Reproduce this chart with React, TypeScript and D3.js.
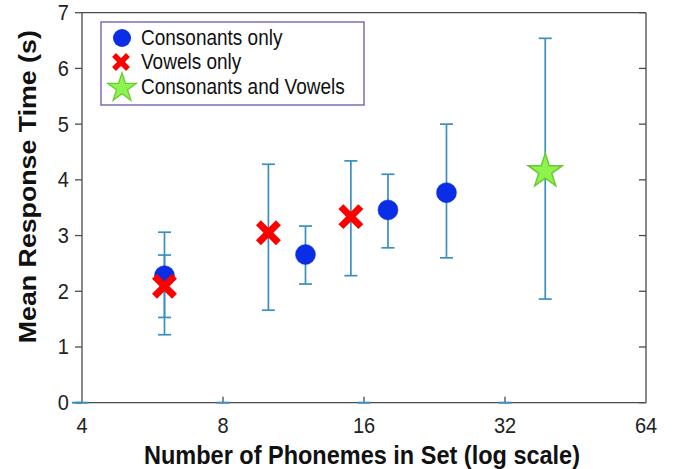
import * as d3 from "d3";

// number of phonemes in each set
const consonantN = [6, 12, 18, 24];
const consonantMean = [2.28, 2.66, 3.46, 3.77];
const consonantLow = [1.53, 2.13, 2.78, 2.6];
const consonantHigh = [2.65, 3.17, 4.1, 5.0];

const vowelN = [6, 10, 15];
const vowelMean = [2.09, 3.05, 3.34];
const vowelLow = [1.22, 1.66, 2.28];
const vowelHigh = [3.06, 4.28, 4.34];

const bothN = [39];
const bothMean = [4.19];
const bothLow = [1.86];
const bothHigh = [6.54];

// flat caps sitting on the baseline
const baselineCaps = [4, 8, 16, 32];

const xTicks = [4, 8, 16, 32, 64];
const yTicks = [0, 1, 2, 3, 4, 5, 6, 7];

const legendLabels = ["Consonants only", "Vowels only", "Consonants and Vowels"];

const W = 676;
const H = 469;
const font = "Arial, 'Liberation Sans', sans-serif";
const barColor = "#3a8fc0";
const axisColor = "#4a4a4a";
const stretch = 1.12; // text in the picture is a bit taller than wide

const x = d3.scaleLog().base(2).domain([4, 64]).range([82, 646]);
const y = d3.scaleLinear().domain([0, 7]).range([402.7, 12.7]);

const starPath = d3.symbol(d3.symbolStar, 360)() as string;
const starSmall = d3.symbol(d3.symbolStar, 260)() as string;

function Cross({ cx, cy, s, w }: { cx: number; cy: number; s: number; w: number }) {
    return (
        <g stroke="#ff0000" strokeWidth={w}>
            <line x1={cx - s} y1={cy - s} x2={cx + s} y2={cy + s} />
            <line x1={cx - s} y1={cy + s} x2={cx + s} y2={cy - s} />
        </g>
    );
}

function ErrorBar({ n, lo, hi }: { n: number; lo: number; hi: number }) {
    const cx = x(n);
    const cap = 6.5;
    return (
        <g stroke={barColor} strokeWidth={1.7}>
            <line x1={cx} x2={cx} y1={y(lo)} y2={y(hi)} />
            <line x1={cx - cap} x2={cx + cap} y1={y(lo)} y2={y(lo)} />
            <line x1={cx - cap} x2={cx + cap} y1={y(hi)} y2={y(hi)} />
        </g>
    );
}

export default function App() {
    const [x0, x1] = x.range();
    const [y0, y1] = y.range();

    return (
        <svg width={W} height={H} style={{ position: "absolute", left: 0, top: 0, background: "#fff" }}>
            {/* axes box */}
            <g stroke={axisColor} strokeWidth={1.3} fill="none">
                <line x1={x0} x2={x1} y1={y0} y2={y0} />
                <line x1={x0} x2={x1} y1={y1} y2={y1} />
                <line x1={x0} x2={x0} y1={y0} y2={y1} />
                <line x1={x1} x2={x1} y1={y0} y2={y1} />
                {yTicks.map(t => (
                    <g key={t}>
                        <line x1={x0 - 7} x2={x0} y1={y(t)} y2={y(t)} />
                        <line x1={x1 - 7} x2={x1} y1={y(t)} y2={y(t)} />
                    </g>
                ))}
                {xTicks.slice(1, -1).map(t => (
                    <line key={t} x1={x(t)} x2={x(t)} y1={y0} y2={y0 - 6} />
                ))}
            </g>

            {baselineCaps.map(t => (
                <line key={t} x1={x(t) - 6.5} x2={x(t) + 6.5} y1={y0} y2={y0}
                    stroke={barColor} strokeWidth={2} />
            ))}
            <line x1={x0 - 10} x2={x0} y1={y0} y2={y0} stroke={barColor} strokeWidth={2} />

            {/* tick labels */}
            <g fontFamily={font} fontSize={20} fill="#222">
                {yTicks.map(t => (
                    <text key={t} transform={`translate(${x0 - 13}, ${y(t) + 7.5}) scale(1, ${stretch})`}
                        textAnchor="end">{t}</text>
                ))}
                {xTicks.map(t => (
                    <text key={t} transform={`translate(${x(t)}, ${y0 + 30}) scale(1, ${stretch})`}
                        textAnchor="middle">{t}</text>
                ))}
            </g>

            {/* axis titles */}
            <text transform={`translate(${(x0 + x1) / 2 - 2}, 464) scale(1, ${stretch})`} textAnchor="middle"
                fontFamily={font} fontWeight="bold" fontSize={23} fill="#111"
                textLength={436} lengthAdjust="spacingAndGlyphs">
                Number of Phonemes in Set (log scale)
            </text>
            <text transform={`translate(36, ${(y0 + y1) / 2 - 21}) rotate(-90)`} textAnchor="middle"
                fontFamily={font} fontWeight="bold" fontSize={24} fill="#111"
                textLength={313} lengthAdjust="spacingAndGlyphs">
                Mean Response Time (s)
            </text>

            {/* error bars */}
            {consonantN.map((n, i) => (
                <ErrorBar key={"c" + n} n={n} lo={consonantLow[i]} hi={consonantHigh[i]} />
            ))}
            {vowelN.map((n, i) => (
                <ErrorBar key={"v" + n} n={n} lo={vowelLow[i]} hi={vowelHigh[i]} />
            ))}
            {bothN.map((n, i) => (
                <ErrorBar key={"b" + n} n={n} lo={bothLow[i]} hi={bothHigh[i]} />
            ))}

            {/* markers */}
            {consonantN.map((n, i) => (
                <circle key={n} cx={x(n)} cy={y(consonantMean[i])} r={10}
                    fill="#0a2ee6" stroke="#0a2ee6" strokeWidth={0.5} />
            ))}
            {vowelN.map((n, i) => (
                <Cross key={n} cx={x(n)} cy={y(vowelMean[i])} s={10} w={7} />
            ))}
            {bothN.map((n, i) => (
                <path key={n} d={starPath} transform={`translate(${x(n)}, ${y(bothMean[i]) + 2})`}
                    fill="#8ef24f" stroke="#66cc2e" strokeWidth={1.5} />
            ))}

            {/* legend */}
            <rect x={101} y={22} width={263} height={83} fill="#fff" stroke="#6e55a8" strokeWidth={1.3} />
            <circle cx={122} cy={38} r={9} fill="#0a2ee6" />
            <Cross cx={121} cy={62} s={7} w={5.5} />
            <path d={starSmall} transform="translate(122, 88)" fill="#8ef24f" stroke="#66cc2e" strokeWidth={1.2} />
            <g fontFamily={font} fontSize={19} fill="#111">
                {legendLabels.map((l, i) => (
                    <text key={l} transform={`translate(141, ${38 + i * 24.5 + 6.5}) scale(1, ${stretch})`}>{l}</text>
                ))}
            </g>
        </svg>
    );
}
